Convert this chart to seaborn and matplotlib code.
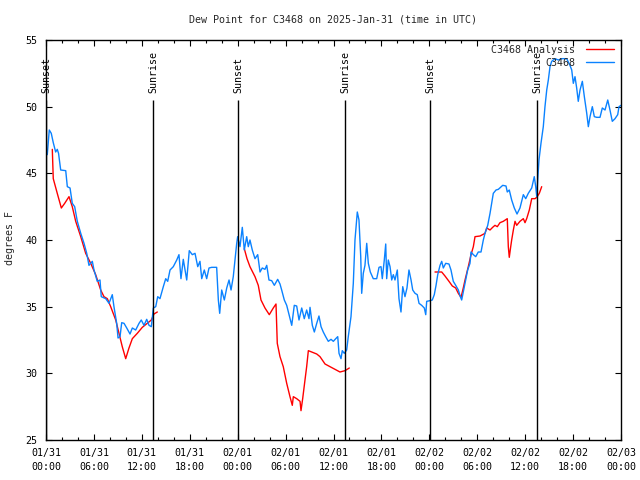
import numpy as np
import pandas as pd
import matplotlib
matplotlib.use("Agg")
import matplotlib.pyplot as plt
import matplotlib.dates as mdates
import seaborn as sns

# ---------------- data ----------------
start = pd.Timestamp("2025-01-31 00:00")

obs_hours = [0.16, 0.41, 0.66, 0.91, 1.21, 1.41, 1.57, 1.84, 2.47, 2.67, 3.01, 3.29, 3.59, 3.92,
             4.35, 4.76, 5.10, 5.38, 5.80, 6.01, 6.42, 6.76, 6.92, 7.48, 7.89, 8.30, 8.51, 8.85,
             9.02, 9.27, 9.48, 9.77, 10.11, 10.52, 10.81, 11.23, 11.65, 11.93, 12.27, 12.61, 12.90,
             13.19, 13.44, 13.74, 13.99, 14.27, 14.69, 14.99, 15.24, 15.53, 15.94, 16.37, 16.65,
             16.90, 17.19, 17.62, 17.94, 18.32, 18.66, 19.00, 19.28, 19.50, 19.82, 20.12, 20.41,
             20.75, 21.37, 21.58, 21.75, 22.00, 22.33, 22.63, 22.92, 23.17, 23.45, 23.67, 23.88,
             24.00, 24.29, 24.58, 24.83, 25.13, 25.33, 25.54, 25.83, 26.17, 26.51, 26.80, 27.08,
             27.42, 27.64, 27.92, 28.26, 28.59, 29.01, 29.30, 29.51, 29.84, 30.14, 30.43, 30.77,
             31.09, 31.39, 31.68, 32.02, 32.34, 32.64, 32.93, 33.06, 33.35, 33.60, 33.90, 34.18,
             34.44, 34.72, 35.02, 35.35, 35.69, 35.98, 36.28, 36.53, 36.69, 36.94, 37.10, 37.35,
             37.65, 37.85, 38.19, 38.48, 38.69, 38.98, 39.19, 39.41, 39.53, 39.73, 39.94, 40.16,
             40.36, 40.61, 40.98, 41.41, 41.70, 41.95, 42.11, 42.36, 42.54, 42.66, 42.86, 43.08,
             43.29, 43.49, 43.70, 43.99, 44.20, 44.45, 44.67, 44.95, 45.20, 45.45, 45.71, 45.92,
             46.21, 46.49, 46.71, 47.04, 47.37, 47.55, 47.67, 48.08, 48.37, 48.62, 48.84, 49.05,
             49.34, 49.55, 49.75, 50.05, 50.46, 50.71, 51.00, 51.30, 51.63, 51.88, 52.05, 52.25,
             52.55, 52.80, 53.09, 53.22, 53.51, 53.81, 54.13, 54.47, 54.76, 54.97, 55.31, 55.60,
             56.01, 56.35, 56.64, 57.19, 57.60, 57.76, 58.01, 58.31, 58.64, 58.98, 59.35, 59.77,
             60.07, 60.39, 60.82, 61.14, 61.32, 61.45, 61.57, 61.73, 61.98, 62.27, 62.48, 62.70,
             62.90, 63.11, 63.32, 63.74, 64.15, 64.58, 65.20, 65.61, 65.83, 66.03, 66.24, 66.45,
             66.65, 66.87, 67.16, 67.41, 67.71, 67.91, 68.12, 68.41, 68.66, 68.96, 69.37, 69.66,
             70.00, 70.34, 70.62, 70.91, 71.25, 71.59, 71.75, 72.00]
obs_vals = [46.4, 48.25, 48.0, 47.3, 46.6, 46.8, 46.5, 45.25, 45.2, 44.0, 43.9, 42.75, 42.5, 41.4,
            40.5, 39.75, 39.0, 38.1, 38.4, 37.75, 36.9, 37.0, 35.75, 35.6, 35.25, 35.9, 35.0, 33.75,
            32.65, 32.75, 33.8, 33.75, 33.4, 32.95, 33.4, 33.25, 33.75, 34.0, 33.6, 34.05, 33.6,
            33.5, 34.9, 35.0, 35.75, 35.6, 36.5, 37.1, 36.9, 37.75, 38.0, 38.5, 38.9,
            37.1, 38.55, 37.0, 39.2, 38.9, 39.0, 38.0, 38.4, 37.1, 37.75, 37.1, 37.9,
            37.95, 37.95, 35.5, 34.5, 36.25, 35.5, 36.4, 37.0, 36.25, 37.25, 38.5, 39.75,
            40.25, 39.5, 40.95, 39.25, 40.25, 39.5, 40.0, 39.25, 38.6, 38.9, 37.6, 37.9,
            37.8, 38.1, 37.0, 36.95, 36.6, 37.05, 36.7, 36.25, 35.5, 35.1, 34.4, 33.6,
            35.1, 35.05, 34.0, 34.9, 34.1, 34.75, 34.1, 34.95, 33.6, 33.1, 33.75, 34.3,
            33.5, 33.1, 32.75, 32.4, 32.55, 32.4, 32.6, 32.75, 31.5, 31.1, 31.7, 31.5,
            31.75, 32.75, 34.25, 36.75, 40.0, 42.1, 41.5, 38.75, 36.0, 37.5, 38.1, 39.75,
            38.25, 37.6, 37.1, 37.1, 37.95, 38.0, 37.1, 38.5, 39.7, 37.1, 38.5, 38.0,
            37.0, 37.4, 37.0, 37.75, 35.6, 34.6, 36.5, 35.75, 36.4, 37.75, 37.0, 36.25,
            36.0, 35.9, 35.25, 35.1, 34.9, 34.4, 35.4, 35.45, 35.5, 35.9, 36.6, 37.4,
            38.1, 38.4, 37.9, 38.25, 38.2, 37.75, 36.9, 36.6, 36.25, 35.75, 35.5, 36.1,
            37.0, 37.75, 38.25, 39.1, 38.9, 38.75, 39.1, 39.1, 40.0, 40.5, 41.1, 42.0,
            43.5, 43.75, 43.8, 44.1, 44.05, 43.6, 43.75, 43.0, 42.4, 41.95, 42.4, 43.4,
            43.1, 43.5, 43.9, 44.75, 44.0, 43.25, 44.5, 46.0, 47.25, 48.5, 50.0, 51.25,
            52.0, 53.0, 53.4, 53.6, 53.5, 53.6, 53.6, 53.1, 52.75, 51.75, 52.25, 51.4,
            50.4, 51.25, 51.9, 50.75, 49.5, 48.5, 49.25, 50.0, 49.25, 49.2, 49.2, 49.9,
            49.75, 50.5, 49.75, 48.9, 49.1, 49.4, 50.0, 50.1]

ana_hours = [0.79, 0.91, 1.41, 1.92, 2.34, 2.88, 3.29, 3.72, 4.35, 4.97, 5.60, 6.22, 6.85, 7.26,
             7.68, 8.10, 8.73, 9.14, 9.55, 9.98, 10.39, 10.81, 11.43, 12.06, 12.68, 13.19, 13.52,
             13.94,
             24.83, 25.17, 25.54, 26.17, 26.58, 26.92, 27.42, 27.96, 28.46, 28.80, 28.96, 29.30,
             29.71, 30.14, 30.55, 30.84, 30.97, 31.39, 31.81, 31.93, 32.14, 32.43, 32.64, 32.85,
             33.27, 33.90, 34.31, 34.94, 35.56, 36.19, 36.81, 37.44, 37.98,
             48.71, 49.55, 49.96, 50.46, 50.88, 51.30, 51.63, 51.97, 52.25, 52.47, 52.88, 53.22,
             53.51, 53.72, 54.35, 54.97, 55.18, 55.60, 55.93, 56.22, 56.51, 56.85, 57.26, 57.76,
             57.89, 58.01, 58.19, 58.31, 58.52, 58.73, 58.94, 59.35, 59.77, 59.98, 60.19, 60.52,
             60.82, 61.23, 61.45, 61.77, 62.07]
ana_vals = [46.8, 44.6, 43.5, 42.4, 42.75, 43.25, 42.5, 41.4, 40.25, 39.0, 38.25, 37.4, 36.25, 35.75,
            35.6, 35.0, 34.0, 33.0, 32.0, 31.1, 31.9, 32.6, 33.0, 33.45, 33.75, 34.0, 34.45,
            34.6,
            39.35, 38.6, 38.0, 37.25, 36.6, 35.5, 34.9, 34.4, 34.9, 35.2, 32.25, 31.25,
            30.5, 29.25, 28.25, 27.6, 28.25, 28.1, 27.9, 27.2, 28.1, 29.5, 30.5, 31.7,
            31.6, 31.45, 31.25, 30.7, 30.5, 30.3, 30.1, 30.2, 30.4,
            37.6, 37.6, 37.3, 36.9, 36.55, 36.4, 36.0, 35.7, 36.4, 37.0, 38.0, 38.9,
            39.5, 40.25, 40.3, 40.5, 40.9, 40.75, 40.95, 41.1, 41.0, 41.3, 41.4, 41.6,
            39.5, 38.7, 39.5, 40.0, 40.75, 41.4, 41.1, 41.4, 41.6, 41.3, 41.6, 42.25,
            43.1, 43.1, 43.2, 43.5, 44.0]
ana_segment = [1] * 28 + [2] * 33 + [3] * 41

sun_hours = [0.05, 13.40, 24.04, 37.45, 48.08, 61.49]
sun_labels = ["Sunset", "Sunrise", "Sunset", "Sunrise", "Sunset", "Sunrise"]

y_ticks = [25, 30, 35, 40, 45, 50, 55]
title_text = "Dew Point for C3468 on 2025-Jan-31 (time in UTC)"
y_label = "degrees F"
legend_labels = ["C3468 Analysis", "C3468"]

# ---------------- frames ----------------
obs_df = pd.DataFrame({"time": start + pd.to_timedelta(obs_hours, unit="h"), "val": obs_vals})
ana_df = pd.DataFrame({"time": start + pd.to_timedelta(ana_hours, unit="h"), "val": ana_vals,
                       "seg": ana_segment})
sun_times = start + pd.to_timedelta(sun_hours, unit="h")

# ---------------- plot ----------------
sns.set_style("ticks")
plt.rcParams["font.family"] = ["DejaVu Sans Mono"]
FS = 7.2
RED = "#ff0000"
BLUE = "#0a82ff"

fig = plt.figure(figsize=(6.4, 4.8), dpi=100)
ax = fig.add_axes([46 / 640, 40 / 480, 575 / 640, 400 / 480])

sns.lineplot(data=ana_df, x="time", y="val", units="seg", estimator=None, color=RED,
             lw=1.0, ax=ax, legend=False)
sns.lineplot(data=obs_df, x="time", y="val", estimator=None, color=BLUE, lw=1.0, ax=ax,
             legend=False)

ax.vlines(sun_times, 25, 50.5, color="black", lw=1.0)
for t, lab in zip(sun_times, sun_labels):
    ax.text(t, 51.0, lab, rotation=90, ha="center", va="bottom", fontsize=FS, color="black")

ax.set_xlim(start, start + pd.Timedelta(hours=72))
ax.set_ylim(25, 55)
ax.set_yticks(y_ticks)
ax.xaxis.set_major_locator(mdates.HourLocator(byhour=[0, 6, 12, 18]))
ax.xaxis.set_minor_locator(mdates.HourLocator(byhour=list(range(0, 24, 2))))
ax.xaxis.set_major_formatter(mdates.DateFormatter("%m/%d\n%H:%M"))
ax.tick_params(which="both", direction="in", top=True, right=True, colors="black",
               labelsize=FS, width=0.8)
ax.tick_params(which="major", length=4)
ax.tick_params(which="minor", length=2.5)
ax.tick_params(axis="x", pad=6)
ax.tick_params(axis="y", pad=6)
for lbl in ax.get_xticklabels():
    lbl.set_linespacing(1.5)
ax.set_xlabel("")
ax.set_ylabel("")
for s in ax.spines.values():
    s.set_color("black")
    s.set_linewidth(1.0)

fig.text(333 / 640, 1 - 20 / 480, title_text, ha="center", va="center", fontsize=FS)
fig.text(10 / 640, 1 - 238 / 480, y_label, ha="center", va="center", rotation=90, fontsize=FS)

# legend: right-aligned text followed by line sample
from matplotlib.lines import Line2D
colors = [RED, BLUE]
ys = [0.975, 0.9425]
legs = []
for lab, c, yy in zip(legend_labels, colors, ys):
    h = Line2D([], [], color=c, lw=1.0)
    leg = ax.legend([h], [lab], loc="center right", bbox_to_anchor=(0.9878, yy),
                    frameon=False, markerfirst=False, fontsize=FS, handlelength=2.8,
                    handletextpad=1.1, borderpad=0, borderaxespad=0)
    legs.append(leg)
for leg in legs[:-1]:
    ax.add_artist(leg)

fig.savefig("out.png", dpi=100)
